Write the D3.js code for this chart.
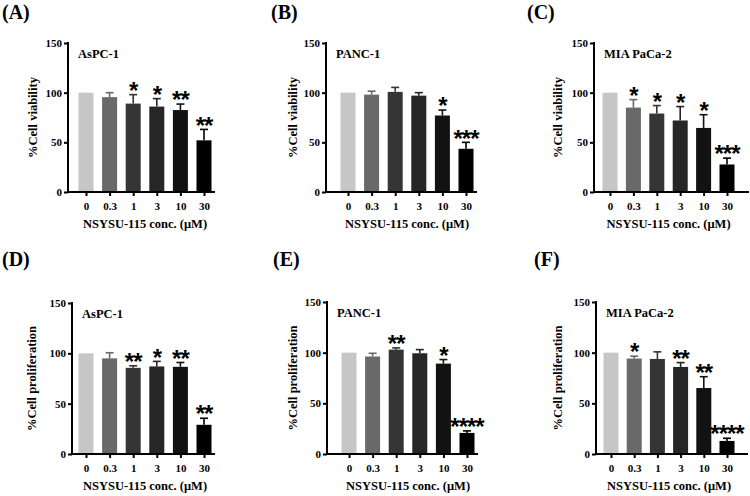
<!DOCTYPE html>
<html>
<head>
<meta charset="utf-8">
<script src="https://cdn.jsdelivr.net/npm/d3@7"></script>
<style>
  body { margin: 0; background: #fff; }
  text { font-family: "Liberation Serif", "Times New Roman", serif; font-weight: bold; }
  .star { font-family: "Liberation Sans", Arial, sans-serif; }
</style>
</head>
<body>
<svg id="chart" width="750" height="496"></svg>
<script>
var concs = ["0", "0.3", "1", "3", "10", "30"];
var barColors = ["#c6c6c6", "#696969", "#353535", "#262626", "#121212", "#000000"];
var yTicks = [0, 50, 100, 150];

// viability (top row)
var aspcViab = [100, 95.5, 89, 86, 82.5, 52];
var aspcViabErr = [0, 4.5, 9, 8, 6, 11];
var aspcViabSig = ["", "", "*", "*", "**", "**"];
var pancViab = [100, 98, 100.8, 97, 77, 43.5];
var pancViabErr = [0, 3.5, 4.5, 3, 5.5, 6.5];
var pancViabSig = ["", "", "", "", "*", "***"];
var miaViab = [100, 85, 79, 72, 64.5, 27.7];
var miaViabErr = [0, 8, 8, 14, 13.3, 6.4];
var miaViabSig = ["", "*", "*", "*", "*", "***"];

// proliferation (bottom row)
var aspcProl = [100, 95, 85.6, 87, 86.6, 29];
var aspcProlErr = [0, 5.6, 2, 5, 4.3, 6.5];
var aspcProlSig = ["", "", "**", "*", "**", "**"];
var pancProl = [100, 96.2, 103, 99.4, 89.2, 20.8];
var pancProlErr = [0, 3.2, 1.7, 3.6, 4, 2];
var pancProlSig = ["", "", "**", "", "*", "****"];
var miaProl = [100, 94.2, 93.8, 85.9, 65.1, 12.9];
var miaProlErr = [0, 2.3, 7, 4.3, 11.2, 2.6];
var miaProlSig = ["", "*", "", "**", "**", "****"];

var panels = [
  { tag: "(A)", line: "AsPC-1", ylab: "%Cell viability", m: aspcViab, e: aspcViabErr, s: aspcViabSig,
    tagX: 2, tagY: 19, ax: 68, axEnd: 215, c0: 86, c5: 204, yTop: 43, yBot: 192, ylabX: 37 },
  { tag: "(B)", line: "PANC-1", ylab: "%Cell viability", m: pancViab, e: pancViabErr, s: pancViabSig,
    tagX: 271, tagY: 19, ax: 326, axEnd: 477, c0: 348, c5: 466, yTop: 43, yBot: 192, ylabX: 297 },
  { tag: "(C)", line: "MIA PaCa-2", ylab: "%Cell viability", m: miaViab, e: miaViabErr, s: miaViabSig,
    tagX: 527, tagY: 19, ax: 594, axEnd: 749, c0: 610, c5: 727, yTop: 43, yBot: 192, ylabX: 562 },
  { tag: "(D)", line: "AsPC-1", ylab: "%Cell proliferation", m: aspcProl, e: aspcProlErr, s: aspcProlSig,
    tagX: 2, tagY: 266, ax: 72, axEnd: 215, c0: 86, c5: 204, yTop: 303, yBot: 454, ylabX: 36 },
  { tag: "(E)", line: "PANC-1", ylab: "%Cell proliferation", m: pancProl, e: pancProlErr, s: pancProlSig,
    tagX: 273, tagY: 266, ax: 327, axEnd: 478, c0: 349, c5: 467, yTop: 302, yBot: 454, ylabX: 297 },
  { tag: "(F)", line: "MIA PaCa-2", ylab: "%Cell proliferation", m: miaProl, e: miaProlErr, s: miaProlSig,
    tagX: 534, tagY: 266, ax: 596, axEnd: 748, c0: 611, c5: 727, yTop: 302, yBot: 454, ylabX: 562 }
];

var svg = d3.select("#chart");
var barW = 15, capW = 8, starSize = 24;

panels.forEach(function(p) {
  var g = svg.append("g");
  var x = d3.scalePoint().domain(concs).range([p.c0, p.c5]);
  var y = d3.scaleLinear().domain([0, 150]).range([p.yBot, p.yTop]);

  g.append("text").attr("x", p.tagX).attr("y", p.tagY)
    .attr("font-size", 20).text(p.tag);

  // bars
  g.selectAll("rect.bar").data(p.m).enter().append("rect")
    .attr("x", (d, i) => x(concs[i]) - barW / 2)
    .attr("y", d => y(d))
    .attr("width", barW)
    .attr("height", d => y(0) - y(d))
    .attr("fill", (d, i) => barColors[i]);

  // error bars (upper only)
  p.m.forEach(function(v, i) {
    if (!p.e[i]) return;
    var cx = x(concs[i]);
    g.append("line").attr("x1", cx).attr("x2", cx)
      .attr("y1", y(v)).attr("y2", y(v + p.e[i]))
      .attr("stroke", barColors[i]).attr("stroke-width", 1.6);
    g.append("line").attr("x1", cx - capW / 2).attr("x2", cx + capW / 2)
      .attr("y1", y(v + p.e[i])).attr("y2", y(v + p.e[i]))
      .attr("stroke", barColors[i]).attr("stroke-width", 1.6);
  });

  // significance stars, centred ~9px above the error cap
  g.selectAll("text.star").data(p.s).enter().append("text")
    .attr("class", "star")
    .attr("x", (d, i) => x(concs[i]))
    .attr("y", (d, i) => y(p.m[i] + p.e[i]) - 9 + 0.55 * starSize)
    .attr("text-anchor", "middle")
    .attr("font-size", starSize)
    .attr("letter-spacing", -1)
    .text(d => d);

  // y axis
  var yAxis = d3.axisLeft(y).tickValues(yTicks).tickSize(4).tickPadding(2);
  var ya = g.append("g").attr("transform", `translate(${p.ax},0)`).call(yAxis);
  ya.select(".domain").attr("stroke-width", 2).attr("d", `M0,${p.yTop - 1}V${p.yBot + 1}`);
  ya.selectAll(".tick line").attr("stroke-width", 2);
  ya.selectAll("text").attr("font-size", 11).attr("font-family", "Liberation Serif").attr("font-weight", "bold");

  // x axis
  var xAxis = d3.axisBottom(x).tickSize(4).tickPadding(6);
  var xa = g.append("g").attr("transform", `translate(0,${p.yBot})`).call(xAxis);
  xa.select(".domain").attr("stroke-width", 2).attr("d", `M${p.ax},0H${p.axEnd}`);
  xa.selectAll(".tick line").attr("stroke-width", 2);
  xa.selectAll("text").attr("font-size", 11).attr("font-family", "Liberation Serif").attr("font-weight", "bold");

  g.append("text").attr("x", (p.c0 + p.c5) / 2).attr("y", p.yBot + 36)
    .attr("text-anchor", "middle").attr("font-size", 12.5).text("NSYSU-115 conc. (μM)");

  g.append("text").attr("x", p.ax + 10).attr("y", p.yTop + 15)
    .attr("font-size", 12.5).text(p.line);

  g.append("text")
    .attr("transform", `translate(${p.ylabX},${(p.yTop + p.yBot) / 2}) rotate(-90)`)
    .attr("text-anchor", "middle").attr("font-size", 12.5).text(p.ylab);
});
</script>
</body>
</html>
